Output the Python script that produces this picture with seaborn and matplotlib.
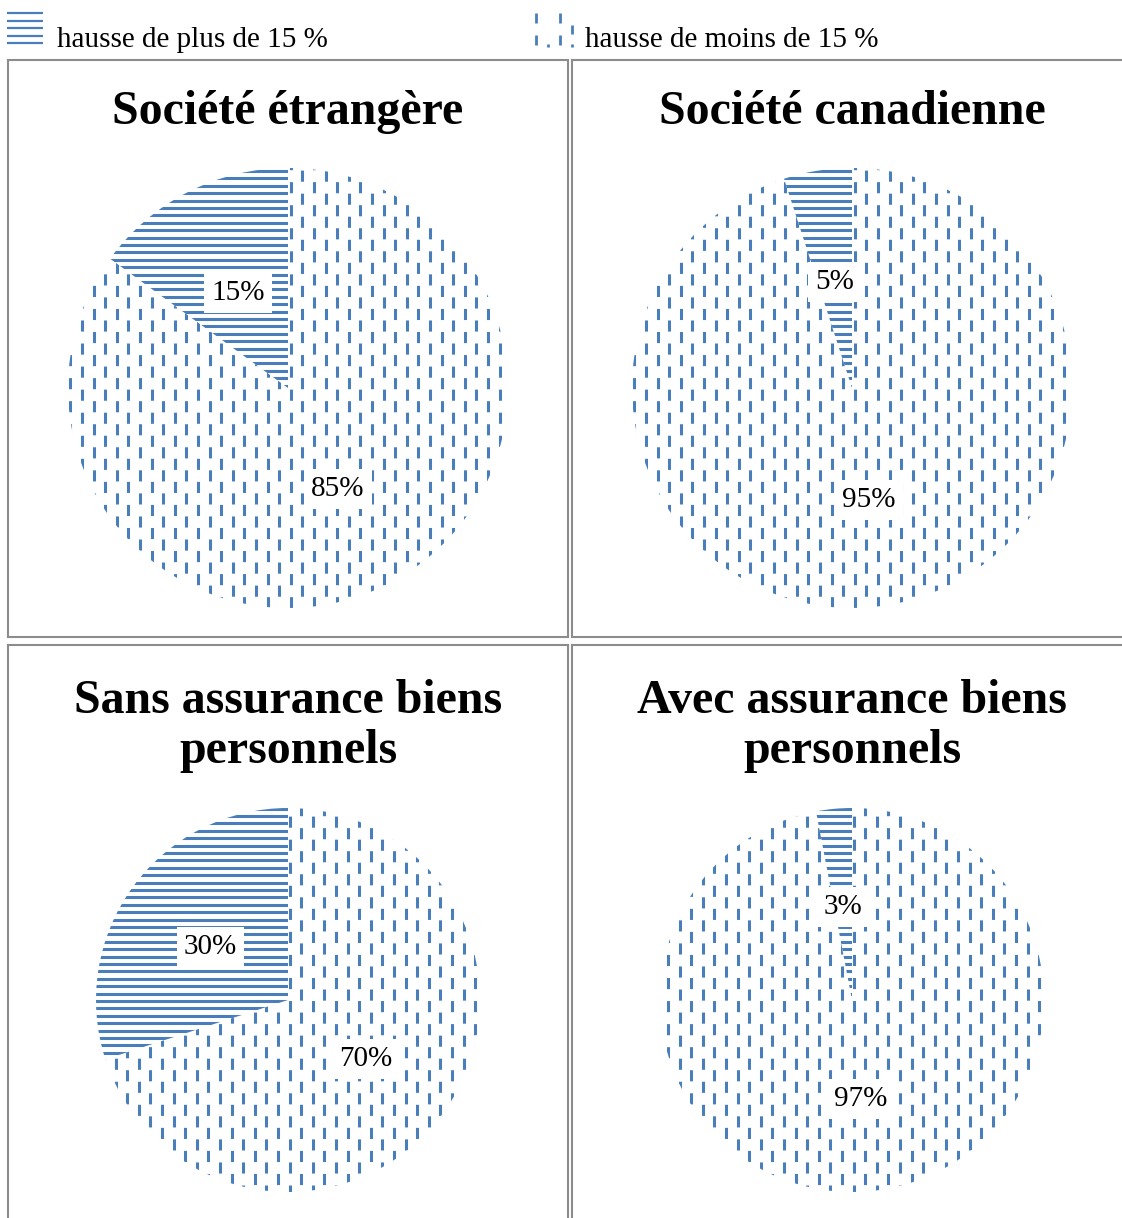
import matplotlib
matplotlib.use("Agg")
import matplotlib.pyplot as plt
import seaborn as sns
import numpy as np

sns.set_theme(style="white")
plt.rcParams['font.family'] = ['Liberation Serif', 'DejaVu Serif']
plt.rcParams['text.color'] = 'black'
plt.rcParams['lines.scale_dashes'] = False

# data
titles = ['Société étrangère', 'Société canadienne',
          'Sans assurance biens\npersonnels', 'Avec assurance biens\npersonnels']
plus_15 = [15, 5, 30, 3]
moins_15 = [85, 95, 70, 97]
legend_labels = ['hausse de plus de 15 %', 'hausse de moins de 15 %']

BLUE = '#4a7ebb'
GREY = '#8c8c8c'
W, H = 1122, 1218

fig = plt.figure(figsize=(W / 100, H / 100), dpi=100)


def box(x0, y0, x1, y1):
    return [x0 / W, 1 - y1 / H, (x1 - x0) / W, (y1 - y0) / H]


def horiz_fill(ax, patch, step, lw):
    for y in np.arange(-1.2, 1.2, step):
        ax.plot([-1.2, 1.2], [y, y], color=BLUE, lw=lw, solid_capstyle='butt',
                clip_path=patch, zorder=2)


def vert_dash_fill(ax, patch, step, lw):
    on, off = 8.0, 8.6
    for i, x in enumerate(np.arange(-1.2, 1.2, step)):
        off0 = 0 if i % 2 == 0 else (on + off) / 2
        ax.plot([x, x], [1.2, -1.2], color=BLUE, lw=lw,
                linestyle=(off0, (on, off)), dash_capstyle='butt',
                clip_path=patch, zorder=2)


panels = [(8, 60, 568, 637), (572, 60, 1124, 637),
          (8, 645, 568, 1222), (572, 645, 1124, 1222)]
pies = [(288, 388, 220), (852, 388, 220), (288, 1000, 192), (852, 1000, 192)]
title_y = [112, 112, 726, 726]

for k in range(4):
    pax = fig.add_axes(box(*panels[k]))
    pax.set_xticks([])
    pax.set_yticks([])
    pax.set_facecolor('none')
    for s in pax.spines.values():
        s.set_color(GREY)
        s.set_linewidth(1.5)
    pax.set_zorder(0)

    cx, cy, r = pies[k]
    fig.text(cx / W, 1 - title_y[k] / H, titles[k], ha='center', va='center',
             fontsize=34.5, fontweight='bold', linespacing=1.15, color='black')

    ax = fig.add_axes(box(cx - r, cy - r, cx + r, cy + r))
    ax.set_zorder(1)
    wedges, texts, autotexts = ax.pie(
        [plus_15[k], moins_15[k]], startangle=90, counterclock=True,
        colors=['white', 'white'], wedgeprops=dict(linewidth=0),
        autopct=lambda p: f'{p:.0f}%', pctdistance=0.5)
    horiz_fill(ax, wedges[0], 7.4 / r, 2.2)
    vert_dash_fill(ax, wedges[1], 11.6 / r, 2.2)
    for t in autotexts:
        t.set_fontsize(21)
        t.set_color('black')
        t.set_va('center_baseline')
        t.set_zorder(5)
        t.set_bbox(dict(facecolor='white', edgecolor='none', pad=5))
    ax.set_xlim(-1, 1)
    ax.set_ylim(-1, 1)
    ax.axis('off')

# legend
lax = fig.add_axes(box(0, 0, W, 58))
lax.set_xlim(0, W)
lax.set_ylim(58, 0)
lax.axis('off')
for y in [13, 21, 28, 36, 43]:
    lax.plot([7, 43], [y, y], color=BLUE, lw=1.6, solid_capstyle='butt')
swatch = {536: [(13, 23), (35, 45)], 548: [(44, 47)],
          560: [(13, 23), (35, 45)], 572: [(25, 34), (44, 47)]}
for x, segs in swatch.items():
    for y0, y1 in segs:
        lax.plot([x, x], [y0, y1], color=BLUE, lw=2.0, solid_capstyle='butt')
lax.text(57, 47, legend_labels[0], fontsize=21, va='baseline', color='black')
lax.text(585, 47, legend_labels[1], fontsize=21, va='baseline', color='black')

fig.savefig('out.png', dpi=100)
